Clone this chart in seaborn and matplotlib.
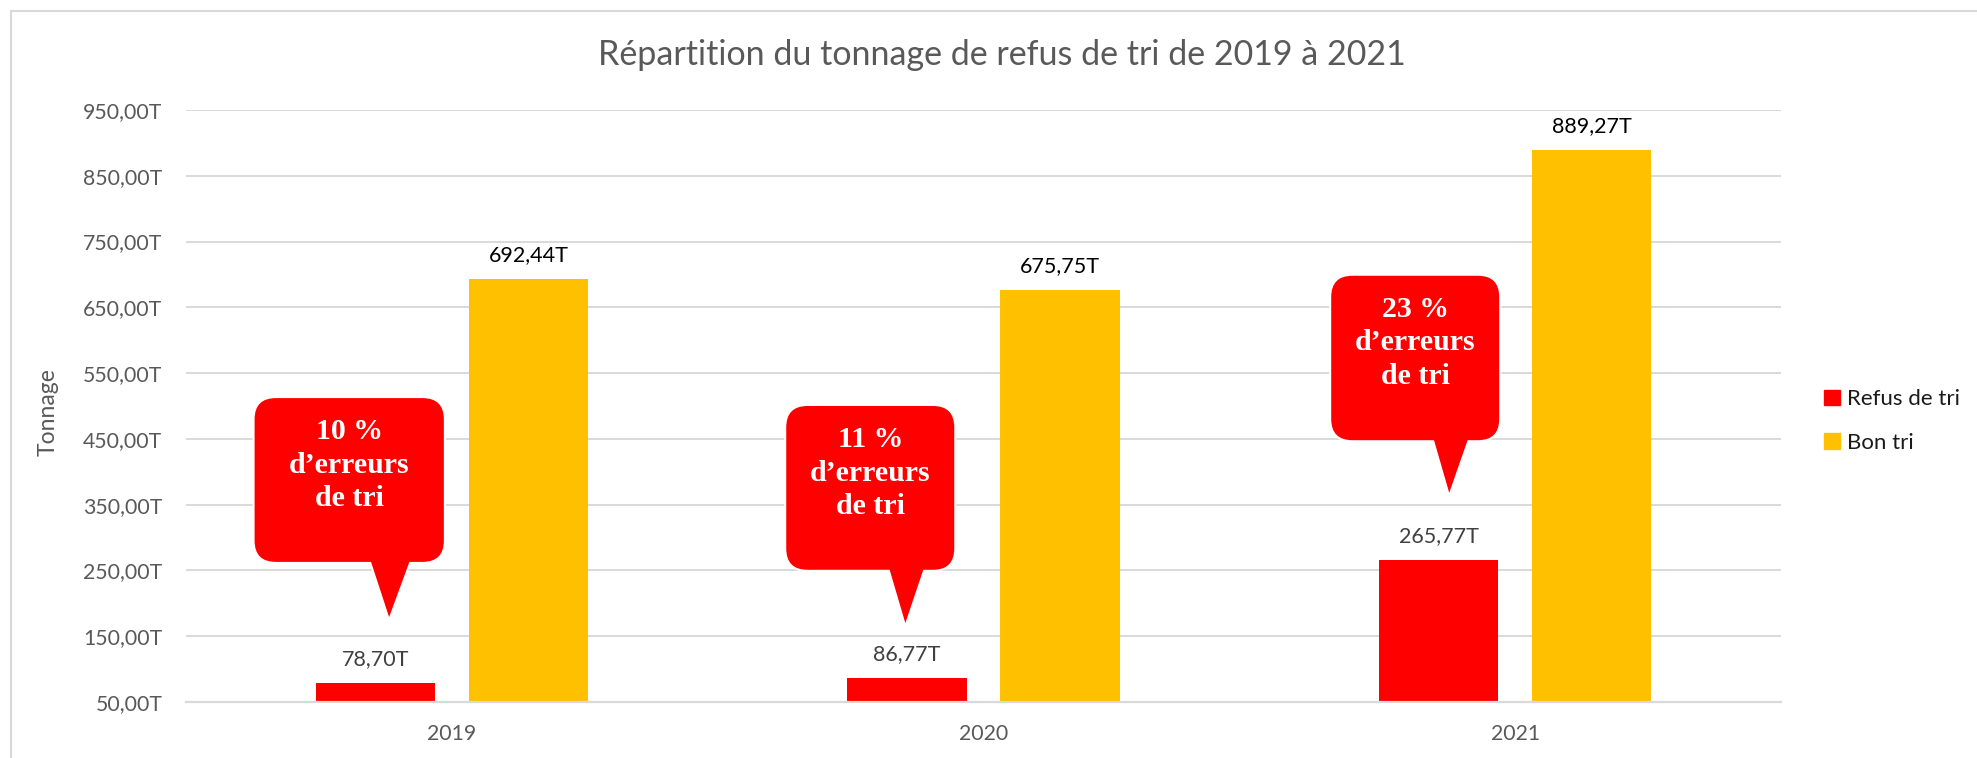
import numpy as np
import pandas as pd
import matplotlib.pyplot as plt
import seaborn as sns
from matplotlib.patches import FancyBboxPatch, Polygon
from matplotlib.ticker import FuncFormatter
from matplotlib.lines import Line2D

# données
annees = ['2019', '2020', '2021']
refus_tri = [78.70, 86.77, 265.77]
bon_tri = [692.44, 675.75, 889.27]
taux_erreurs = ['10 %', '11 %', '23 %']
series = ['Refus de tri', 'Bon tri']
couleurs = {'Refus de tri': '#FF0000', 'Bon tri': '#FFC000'}

df = pd.DataFrame({
    'annee': annees * 2,
    'type': [series[0]] * 3 + [series[1]] * 3,
    'tonnage': refus_tri + bon_tri,
})

sns.set_theme(style='white')
plt.rcParams['font.family'] = ['Lato', 'DejaVu Sans']

fig = plt.figure(figsize=(19.77, 7.58), dpi=100)
ax = fig.add_axes([186 / 1977, 1 - 702 / 758, 1595 / 1977, 592 / 758])

sns.barplot(data=df, x='annee', y='tonnage', hue='type', palette=couleurs,
            saturation=1, width=0.576, gap=0.22, errorbar=None, linewidth=0, ax=ax)


def fmt_t(v):
    return f"{v:.2f}".replace('.', ',') + 'T'


ax.set_ylim(50, 950)
ax.set_yticks(np.arange(50, 951, 100))
ax.yaxis.set_major_formatter(FuncFormatter(lambda v, p: fmt_t(v)))
ax.yaxis.grid(True, color='#D9D9D9', linewidth=1.4)
ax.set_axisbelow(True)
for s in ['top', 'right', 'left']:
    ax.spines[s].set_visible(False)
ax.spines['bottom'].set_color('#D9D9D9')
ax.spines['bottom'].set_linewidth(1.6)
ax.tick_params(axis='y', length=0, pad=17, labelsize=15.3, labelcolor='#595959')
ax.tick_params(axis='x', length=0, pad=16, labelsize=15.3, labelcolor='#595959')
ax.set_xlabel('')
ax.set_ylabel('Tonnage', fontsize=16.5, color='#595959')
ax.yaxis.set_label_coords((59 - 186) / 1595, 0.49)

# étiquettes de valeurs
couleurs_lbl = ['#404040', '#000000']
for cont, vals, c in zip(ax.containers, [refus_tri, bon_tri], couleurs_lbl):
    ax.bar_label(cont, labels=[fmt_t(v) for v in vals], padding=10,
                 fontsize=15.5, color=c)

# légende
ax.get_legend().remove()
handles = [plt.Rectangle((0, 0), 1, 1, color=couleurs[s]) for s in series]
fig.legend(handles, series, loc='center left',
           bbox_to_anchor=(1824 / 1977, 1 - 421 / 758), frameon=False,
           fontsize=16, handlelength=0.7, handleheight=0.7, handletextpad=0.35,
           labelspacing=1.05, borderpad=0, borderaxespad=0, labelcolor='#1a1a1a')

# titre
fig.text(1002 / 1977, 1 - 55 / 758, 'Répartition du tonnage de refus de tri de 2019 à 2021',
         ha='center', va='center', fontsize=24.5, color='#595959')

# bulles : x0, x1, y_bas, y_haut, base0, base1, pointe_x, pointe_y
bulles = [
    (-0.371, -0.015, 263, 512, -0.158, -0.073, -0.118, 179),
    (0.629, 0.945, 251, 500, 0.818, 0.893, 0.853, 170),
    (1.654, 1.970, 448, 698, 1.842, 1.917, 1.876, 368),
]
aspect = 1.5203 * 531.5
for (x0, x1, yb, yh, b0, b1, px, py), t in zip(bulles, taux_erreurs):
    for lw, ec, z in [(3, 'white', 5), (0, 'none', 6)]:
        box = FancyBboxPatch((x0, yb), x1 - x0, yh - yb,
                             boxstyle='round,pad=0,rounding_size=0.04',
                             mutation_aspect=aspect, fc='#FF0000', ec=ec, lw=lw,
                             zorder=z, clip_on=False)
        ax.add_patch(box)
        tri = Polygon([(b0, yb + 15), (b1, yb + 15), (px, py)], closed=True,
                      fc='#FF0000', ec=ec, lw=lw, zorder=z, clip_on=False)
        ax.add_patch(tri)
    ax.text((x0 + x1) / 2, yh - 102, f"{t}\nd’erreurs\nde tri", ha='center',
            va='center', fontsize=21.5, fontweight='bold', color='white',
            family=['Liberation Serif', 'DejaVu Serif'], linespacing=1.3, zorder=7)

# cadre
fig.add_artist(Line2D([11 / 1977, 11 / 1977], [0, 1 - 11 / 758], color='#D9D9D9', lw=1.5))
fig.add_artist(Line2D([11 / 1977, 1], [1 - 11 / 758, 1 - 11 / 758], color='#D9D9D9', lw=1.5))

plt.savefig('out.png', dpi=100)
